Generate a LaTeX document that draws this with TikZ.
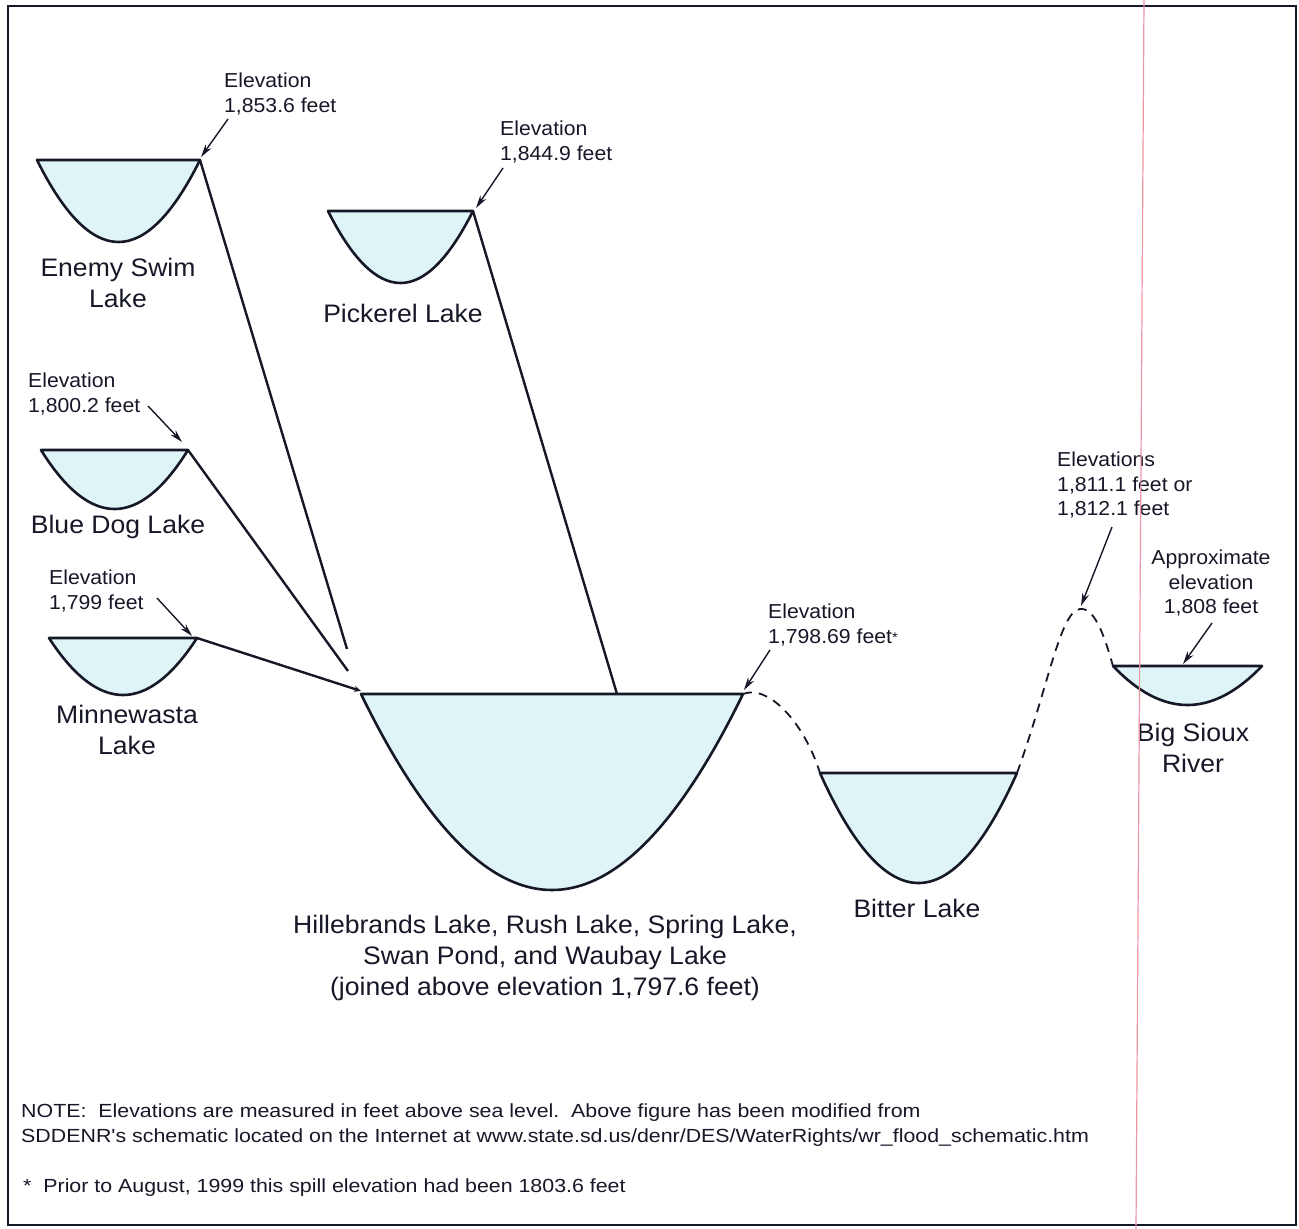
\documentclass[tikz,border=0pt]{standalone}
\usepackage{fontspec}
\setmainfont{Liberation Sans}[FakeStretch=1.05]
\newfontfamily\notefam{Liberation Sans}[FakeStretch=1.125]
\usetikzlibrary{arrows.meta}
\definecolor{ink}{RGB}{22,24,40}
\definecolor{water}{RGB}{222,244,247}
\definecolor{scanpink}{RGB}{238,150,165}
\newcommand\elevfont{\fontsize{20.2}{24.5}\selectfont}
\newcommand\lakefont{\fontsize{25.3}{31}\selectfont}
\newcommand\notefont{\notefam\fontsize{19}{22}\selectfont}
\newcommand\smallstar{{\fontsize{14}{14}\selectfont\raisebox{1pt}{*}}}
\newcommand\lakeshape[4]{%
  \draw[lakeline] (#1,#3) .. controls ({#1+(#2-#1)/3},{#3+4*#4/3}) and ({#2-(#2-#1)/3},{#3+4*#4/3}) .. (#2,#3) -- cycle;}
\tikzset{
  lakeline/.style={draw=ink, line width=2.6pt, fill=water, line join=round},
  conn/.style={draw=ink, line width=2.4pt},
  pointer/.style={draw=ink, line width=1.4pt, -{Stealth[length=13pt,width=7pt]}},
  spill/.style={draw=ink, line width=1.8pt, dash pattern=on 9pt off 7pt},
  elev/.style={font=\elevfont, text=ink, inner sep=0pt, align=left, anchor=west},
  lakename/.style={font=\lakefont, text=ink, inner sep=0pt, align=center},
  note/.style={font=\notefont, text=ink, inner sep=0pt, anchor=west}
}
\begin{document}
\begin{tikzpicture}[x=1pt,y=-1pt]
\useasboundingbox (0,0) rectangle (1299,1229);
\fill[white] (0,0) rectangle (1299,1229);
% frame
\draw[ink, line width=2.6pt] (8,6) rectangle (1296,1225);

% lakes
\lakeshape{37}{200}{160}{82}
\lakeshape{328}{473}{211}{72}
\lakeshape{41}{188}{450}{59}
\lakeshape{49}{197}{638}{57}
\lakeshape{361}{743}{694}{196}
\lakeshape{820}{1017}{773}{110}
\lakeshape{1113}{1262}{666}{39}

% named points
\coordinate (es) at (200,160);
\coordinate (pk) at (473,211);
\coordinate (bd) at (188,450);
\coordinate (mw) at (197,638);
\coordinate (hl) at (361,691);
\coordinate (hp) at (617,694);
\coordinate (hr) at (743,694);
\coordinate (bl) at (820,773);
\coordinate (br) at (1017,773);
\coordinate (peak) at (1080,609);
\coordinate (sl) at (1113,666);
\coordinate (sm) at (1183,664);
\coordinate (esend) at (347,649);
\coordinate (bdend) at (348,671);

% connectors
\draw[conn] (es) -- (esend);
\draw[conn] (bd) -- (bdend);
\draw[conn] (pk) -- (hp);
\draw[conn, -{Stealth[length=7pt,width=6pt]}] (mw) -- (hl);

% spill paths
\draw[spill] (hr) .. controls (768,684) and (804,722) .. (bl);
\draw[spill] (br) .. controls (1048,688) and (1060,611) .. (peak) .. controls (1096,607) and (1106,642) .. (sl);

% elevation labels
\node[elev] (tes) at (224,94) {Elevation\\1,853.6 feet};
\node[elev] (tpk) at (500,142) {Elevation\\1,844.9 feet};
\node[elev] (tbd) at (28,394) {Elevation\\1,800.2 feet};
\node[elev] (tmw) at (49,591) {Elevation\\1,799 feet};
\node[elev] (thl) at (768,625) {Elevation\\1,798.69 feet\smallstar};
\node[elev] (tpeak) at (1057,485) {Elevations\\1,811.1 feet or\\1,812.1 feet};
\node[elev, align=center, anchor=center] (tsx) at (1211,583) {Approximate\\elevation\\1,808 feet};

% pointers
\coordinate (a1) at (228,119); \draw[pointer] (a1) -- (201,157);
\coordinate (a2) at (503,168); \draw[pointer] (a2) -- (476,208);
\coordinate (a3) at (148,406); \draw[pointer] (a3) -- (182,442);
\coordinate (a4) at (157,598); \draw[pointer] (a4) -- (192,636);
\coordinate (a5) at (770,650); \draw[pointer] (a5) -- (744,690);
\coordinate (a6) at (1112,527); \draw[pointer] (a6) -- (1081,606);
\coordinate (a7) at (1212,623); \draw[pointer] (a7) -- (sm);

% lake names
\node[lakename] (nes) at (118,283) {Enemy Swim\\Lake};
\node[lakename] (npk) at (403,313) {Pickerel Lake};
\node[lakename] (nbd) at (118,527) {Blue Dog Lake};
\node[lakename] (nmw) at (127,730) {Minnewasta\\Lake};
\node[lakename] (nhl) at (545,958) {Hillebrands Lake, Rush Lake, Spring Lake,\\Swan Pond, and Waubay Lake\\(joined above elevation 1,797.6 feet)};
\node[lakename] (nbt) at (917,908) {Bitter Lake};
\node[lakename] (nsx) at (1193,748) {Big Sioux\\River};

% notes
\node[note] (n1) at (21,1113) {NOTE:\ \ Elevations are measured in feet above sea level.\ \ Above figure has been modified from};
\node[note] (n2) at (21,1138) {SDDENR's schematic located on the Internet at www.state.sd.us/denr/DES/WaterRights/wr\_flood\_schematic.htm};
\node[note] (n3) at (23,1188) {*\ \ Prior to August, 1999 this spill elevation had been 1803.6 feet};

% scanner margin line
\draw[scanpink, line width=1.2pt] (1144,0) -- (1136,1229);
\end{tikzpicture}
\end{document}
